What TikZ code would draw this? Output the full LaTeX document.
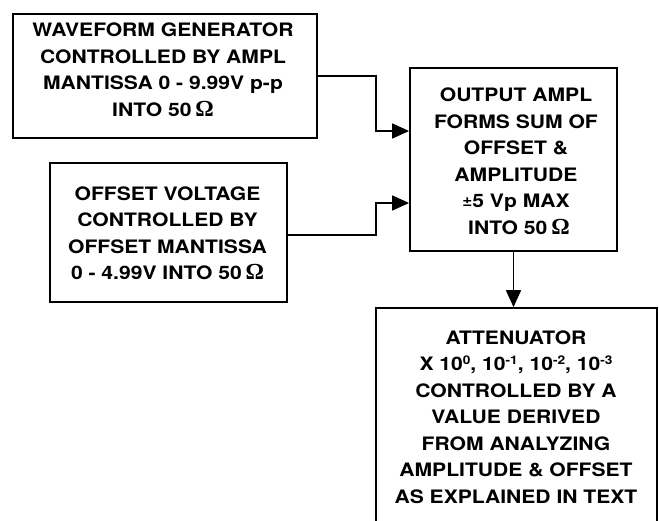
\documentclass[tikz,border=0pt]{standalone}
\usepackage{fontspec}
\setmainfont{TeX Gyre Heros}[FakeStretch=1.14]
\newfontfamily\omegafont{Liberation Serif}
\usetikzlibrary{arrows.meta}
\newcommand{\ohm}{{\omegafont\fontsize{23}{26}\selectfont\thinspace Ω}}
\newcommand{\sps}[1]{\raisebox{6pt}{\fontsize{12}{12}\selectfont #1}}
\begin{document}
\begin{tikzpicture}[x=1pt,y=-1pt,
  box/.style={draw, line width=1.8pt, inner sep=0pt},
  lbl/.style={align=center, font=\fontsize{18.5}{26.5}\selectfont\bfseries, inner sep=0pt},
  arr/.style={line width=1.8pt, -{Triangle[length=17pt,width=15pt]}},
  wire/.style={line width=1.8pt}]
\useasboundingbox (0,0) rectangle (659,520);
\clip (0,0) rectangle (659,520);
\fill[white] (0,0) rectangle (659,520);
% boxes
\node[box, minimum width=304pt, minimum height=124pt] (b1) at (165,76) {};
\node[box, minimum width=237pt, minimum height=139pt] (b2) at (168.5,232.5) {};
\node[box, minimum width=207pt, minimum height=183pt] (b3) at (513.5,159.5) {};
\node[box, minimum width=281pt, minimum height=240pt] (b4) at (516.5,428) {};
% texts
\node[lbl] (t1) at (163,70) {WAVEFORM GENERATOR\\CONTROLLED BY AMPL\\MANTISSA 0 - 9.99V p-p\\INTO 50\ohm};
\node[lbl] (t2) at (167.5,233.5) {OFFSET VOLTAGE\\CONTROLLED BY\\OFFSET MANTISSA\\0 - 4.99V INTO 50\ohm};
\node[lbl] (t3) at (516,161.5) {OUTPUT AMPL\\FORMS SUM OF\\OFFSET \&\\AMPLITUDE\\\raisebox{1pt}{\fontsize{15}{15}\selectfont ±}5 Vp MAX\\\ INTO 50\ohm};
\node[lbl] (t4) at (516,417) {ATTENUATOR\\X 10\sps{0}, 10\sps{-1}, 10\sps{-2}, 10\sps{-3}\\CONTROLLED BY A\\VALUE DERIVED\\FROM ANALYZING\\AMPLITUDE \& OFFSET\\AS EXPLAINED IN TEXT};
% junctions
\coordinate (j1) at (376,76);
\coordinate (k1) at (376,131);
\coordinate (j2) at (376,235);
\coordinate (k2) at (376,203);
% connectors
\draw[arr] (b1.east) -- (j1) -- (k1) -- (b3.west |- k1);
\draw[arr] (b2.east |- j2) -- (j2) -- (k2) -- (b3.west |- k2);
\draw[arr] (b3.south) -- (b3.south |- b4.north);
\end{tikzpicture}
\end{document}
